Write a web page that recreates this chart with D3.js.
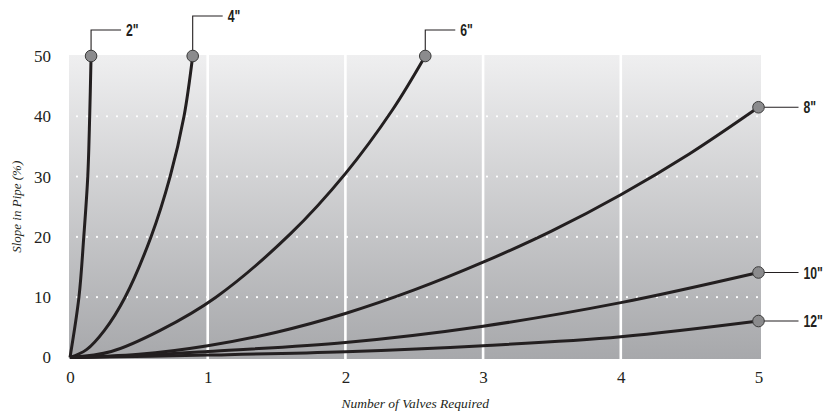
<!DOCTYPE html>
<html>
<head>
<meta charset="utf-8">
<script src="https://cdn.jsdelivr.net/npm/d3@7"></script>
<style>
  html, body { margin: 0; padding: 0; background: #ffffff; }
  svg { display: block; }
</style>
</head>
<body>
<svg id="chart" width="831" height="414"></svg>
<script>
// ---------- data ----------
const categories = ['2"', '4"', '6"', '8"', '10"', '12"'];

const valves2  = [0, 0.065, 0.100, 0.129, 0.143, 0.153];
const slope2   = [0, 10, 20, 30, 40, 50];

const valves4  = [0, 0.12, 0.25, 0.40, 0.588, 0.727, 0.828, 0.891];
const slope4   = [0, 1.3, 4.5, 10, 20, 30, 40, 50];

const valves6  = [0, 0.3, 0.655, 1.06, 1.6, 2.0, 2.34, 2.58];
const slope6   = [0, 1.0, 4.5, 10, 20.5, 30.5, 41, 50];

const valves8  = [0, 0.5, 1, 1.5, 2, 2.5, 3, 3.5, 4, 4.5, 5];
const slope8   = [0, 0.52, 1.95, 4.2, 7.3, 11.2, 15.8, 21.0, 27.0, 33.8, 41.5];

const valves10 = [0, 0.5, 1, 2, 3, 4, 5];
const slope10  = [0, 0.35, 1.0, 2.5, 5.2, 9.1, 14.1];

const valves12 = [0, 1, 2, 3, 4, 5];
const slope12  = [0, 0.4, 0.96, 1.96, 3.45, 6.05];

const xTicks = [0, 1, 2, 3, 4, 5];
const yTicks = [0, 10, 20, 30, 40, 50];
const xGrid = [1, 2, 3, 4];
const yGrid = [10, 20, 30, 40];

const xTitle = "Number of Valves Required";
const yTitle = "Slope in Pipe (%)";

// ---------- layout / style ----------
const seriesValves = [valves2, valves4, valves6, valves8, valves10, valves12];
const seriesSlope  = [slope2, slope4, slope6, slope8, slope10, slope12];
const leaderType = ["up", "up", "up", "right", "right", "right"];
const leaderRise = [26, 40, 26, 0, 0, 0];

const svg = d3.select("#chart");
const x = d3.scaleLinear().domain([0, 5]).range([70, 758.5]);
const y = d3.scaleLinear().domain([0, 50]).range([357.5, 56]);

const defs = svg.append("defs");
const grad = defs.append("linearGradient").attr("id", "bg")
  .attr("x1", 0).attr("y1", 0).attr("x2", 0).attr("y2", 1);
grad.append("stop").attr("offset", "0%").attr("stop-color", "#efeff0");
grad.append("stop").attr("offset", "100%").attr("stop-color", "#a7a8ab");

const plotLeft = x(0) - 1, plotRight = x(5) + 2.5;
const plotTop = y(50) - 1, plotBottom = y(0) + 1.5;

svg.append("rect")
  .attr("x", plotLeft).attr("y", plotTop)
  .attr("width", plotRight - plotLeft).attr("height", plotBottom - plotTop)
  .attr("fill", "url(#bg)");

svg.append("g").selectAll("line").data(xGrid).join("line")
  .attr("x1", d => x(d)).attr("x2", d => x(d))
  .attr("y1", plotTop).attr("y2", plotBottom)
  .attr("stroke", "#ffffff").attr("stroke-width", 2.6);

svg.append("g").selectAll("line").data(yGrid).join("line")
  .attr("x1", x(0) + 7).attr("x2", plotRight - 1)
  .attr("y1", d => y(d)).attr("y2", d => y(d))
  .attr("stroke", "#ffffff").attr("stroke-width", 2.2)
  .attr("stroke-linecap", "round")
  .attr("stroke-dasharray", "0,10");

const line = d3.line().x(d => x(d[0])).y(d => y(d[1])).curve(d3.curveCatmullRom.alpha(0.5));
const seriesData = categories.map((c, i) => ({
  name: c,
  pts: seriesValves[i].map((v, j) => [v, seriesSlope[i][j]]),
  type: leaderType[i],
  rise: leaderRise[i]
}));

svg.append("g").selectAll("path").data(seriesData).join("path")
  .attr("d", d => line(d.pts))
  .attr("fill", "none")
  .attr("stroke", "#231f20")
  .attr("stroke-width", 3)
  .attr("stroke-linejoin", "round");

const labelFont = "'Liberation Sans', Arial, sans-serif";
const lg = svg.append("g");
function addLabel(tx, ty, name) {
  lg.append("text")
    .attr("transform", `translate(${tx},${ty}) scale(0.72,1)`)
    .attr("dy", "0.36em")
    .attr("font-family", labelFont)
    .attr("font-weight", "bold").attr("font-size", 17)
    .attr("fill", "#231f20").text(name);
}
seriesData.forEach(d => {
  const last = d.pts[d.pts.length - 1];
  const cx = x(last[0]), cy = y(last[1]);
  if (d.type === "up") {
    const ty = cy - d.rise;
    lg.append("path")
      .attr("d", `M${cx},${cy} V${ty} H${cx + 30}`)
      .attr("fill", "none").attr("stroke", "#231f20").attr("stroke-width", 1.1);
    addLabel(cx + 35, ty, d.name);
  } else {
    lg.append("path")
      .attr("d", `M${cx},${cy} H${cx + 40}`)
      .attr("fill", "none").attr("stroke", "#231f20").attr("stroke-width", 1.1);
    addLabel(cx + 45, cy, d.name);
  }
  lg.append("circle").attr("cx", cx).attr("cy", cy).attr("r", 5.8)
    .attr("fill", "#8b8b8d").attr("stroke", "#3a3a3a").attr("stroke-width", 1);
});

const serif = "'Liberation Serif', 'Times New Roman', serif";
const yAxis = svg.append("g").attr("transform", `translate(${x(0) - 19},0)`)
  .call(d3.axisLeft(y).tickValues(yTicks).tickSize(0).tickPadding(0).tickFormat(d3.format("d")));
yAxis.select(".domain").remove();
yAxis.attr("font-family", serif).attr("font-size", 17);
yAxis.selectAll("text").attr("fill", "#231f20");

const xAxis = svg.append("g").attr("transform", `translate(0,${y(0) + 13})`)
  .call(d3.axisBottom(x).tickValues(xTicks).tickSize(0).tickPadding(0).tickFormat(d3.format("d")));
xAxis.select(".domain").remove();
xAxis.attr("font-family", serif).attr("font-size", 17);
xAxis.selectAll("text").attr("fill", "#231f20");

svg.append("text")
  .attr("x", (x(0) + x(5)) / 2 + 1).attr("y", 408)
  .attr("text-anchor", "middle")
  .attr("font-family", serif).attr("font-style", "italic").attr("font-size", 13.5)
  .attr("fill", "#231f20").text(xTitle);

svg.append("text")
  .attr("transform", `translate(21,${(y(0) + y(50)) / 2}) rotate(-90)`)
  .attr("text-anchor", "middle")
  .attr("font-family", serif).attr("font-style", "italic").attr("font-size", 13)
  .attr("fill", "#231f20").text(yTitle);
</script>
</body>
</html>
